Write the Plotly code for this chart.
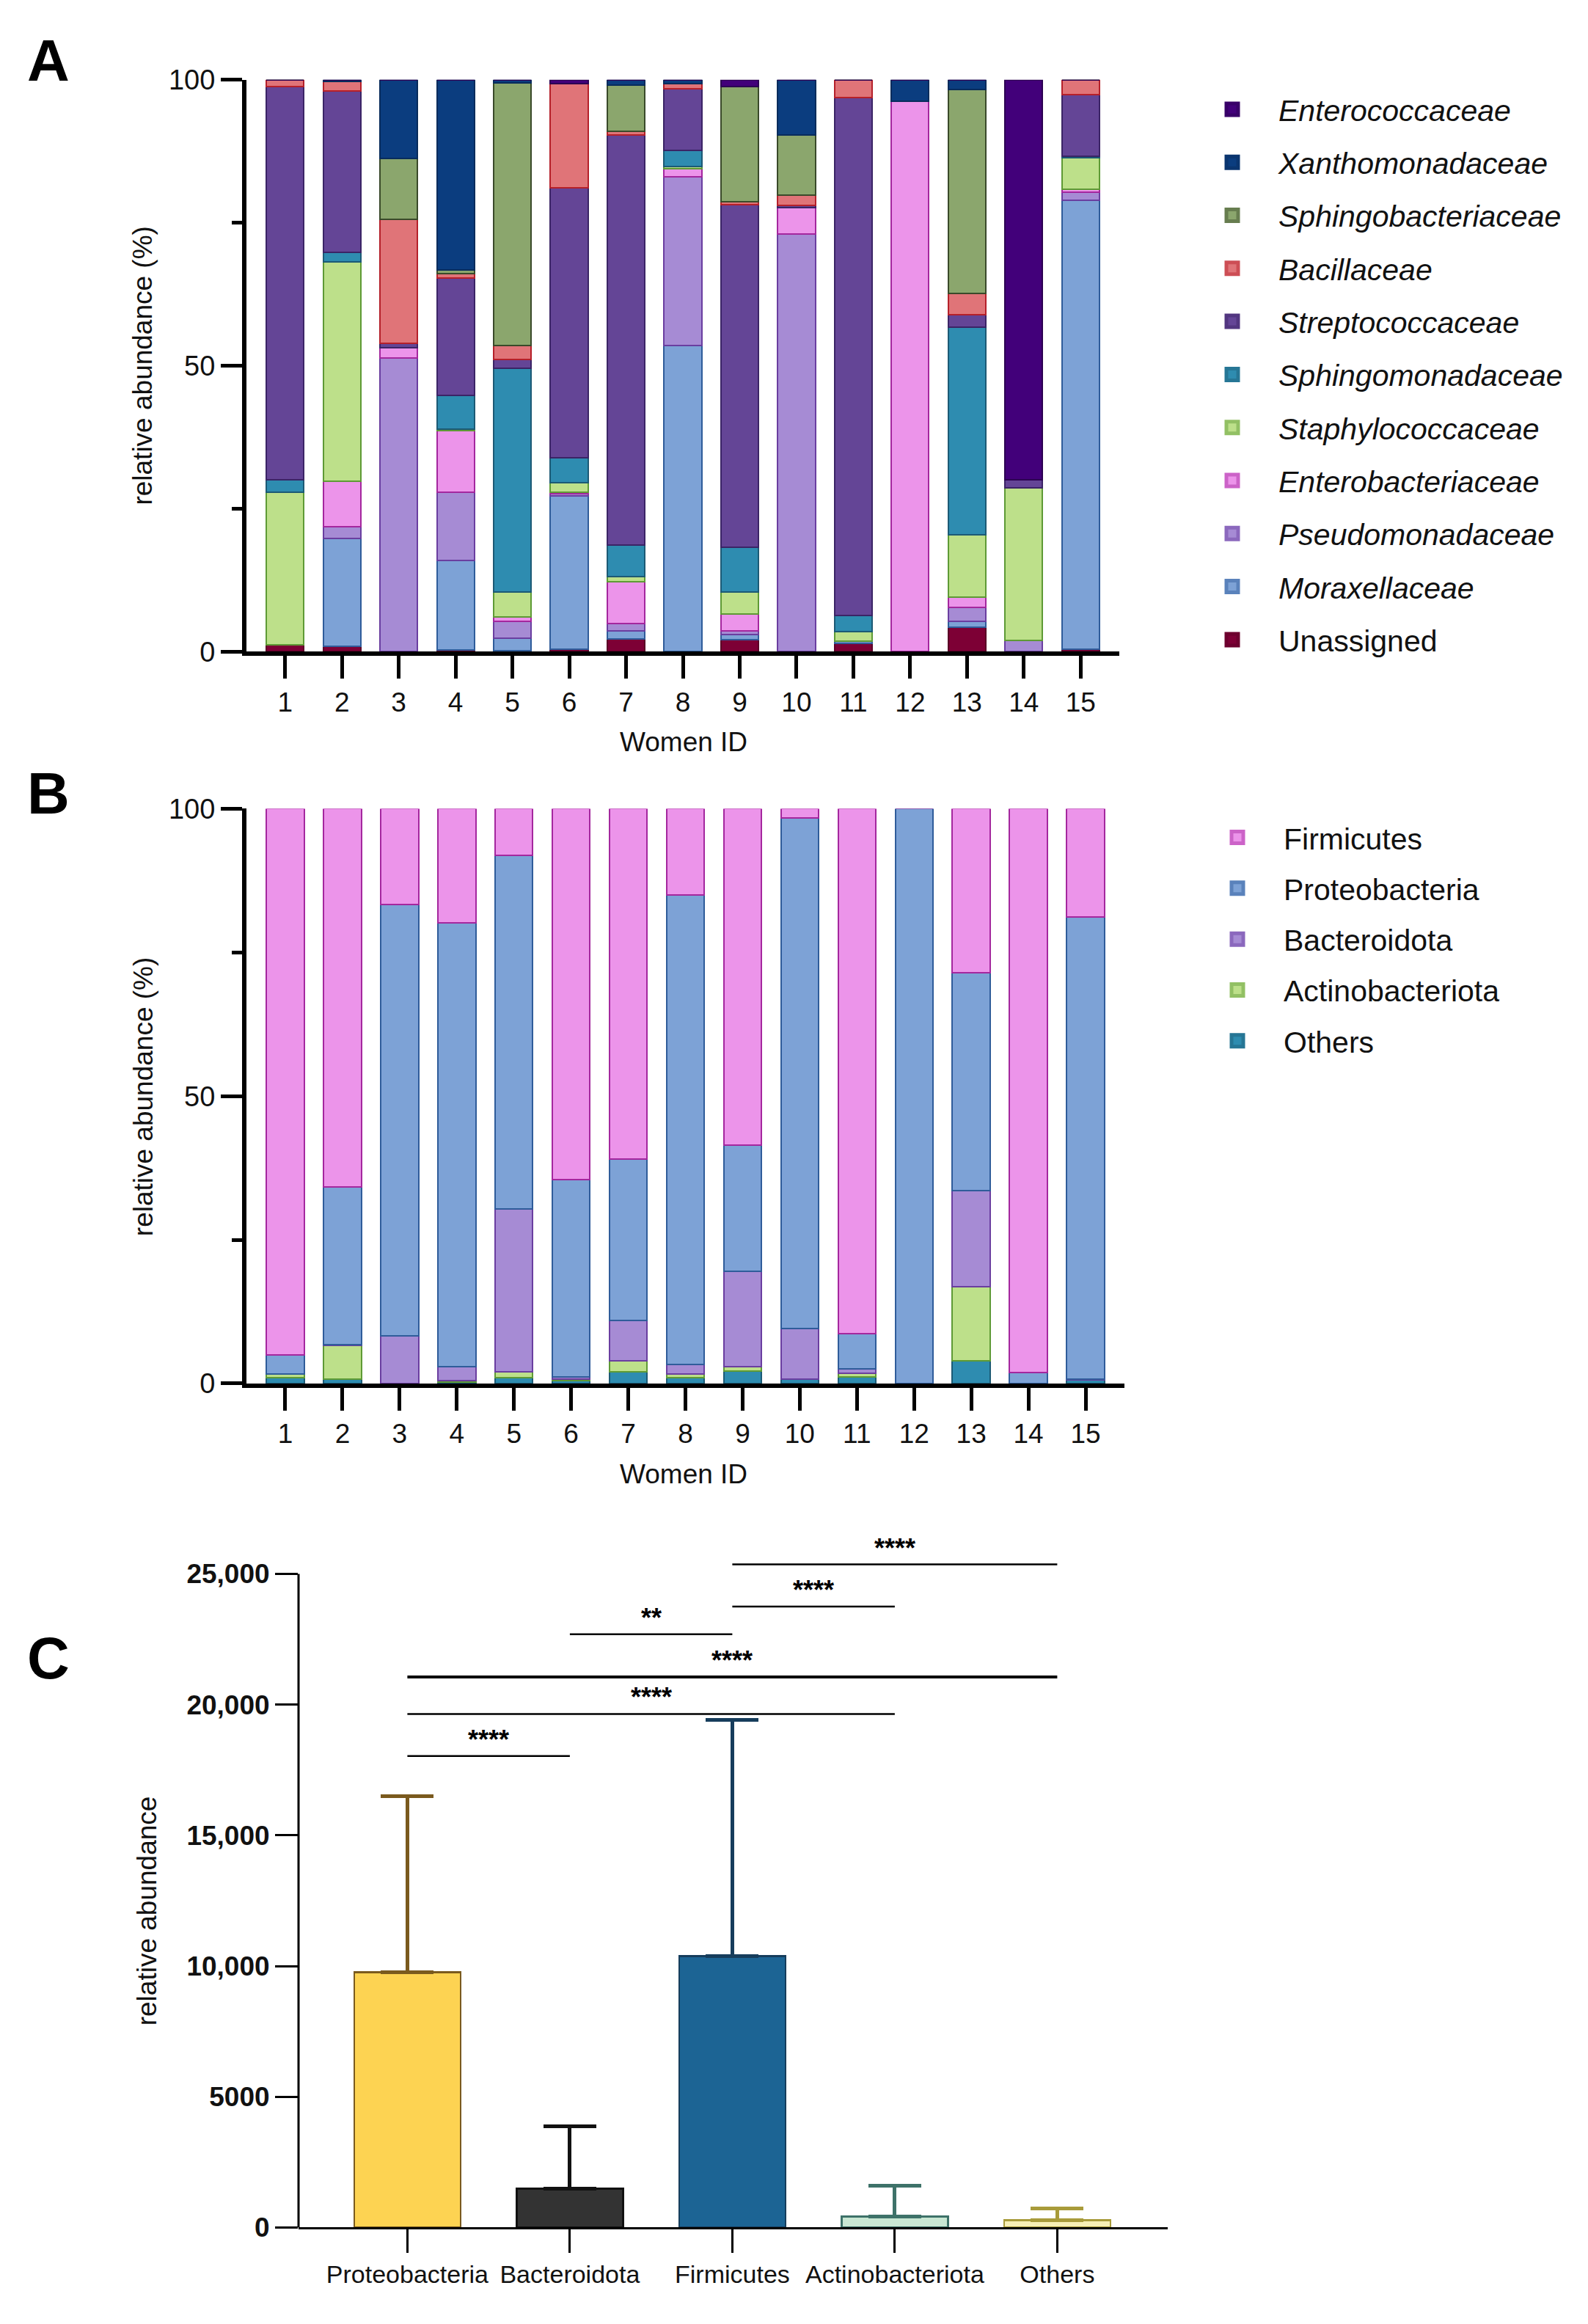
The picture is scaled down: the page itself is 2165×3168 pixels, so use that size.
import plotly.graph_objects as go

W, H = 2165, 3168
FONT = "Liberation Sans, Arial, Helvetica, sans-serif"

# ---------------- data ----------------
women_ids = list(range(1, 16))

# Panel A: family level relative abundance (%), listed bottom -> top of stack
unassigned          = [1.2, 1.0, 0.0, 0.3, 0.2, 0.4, 2.2, 0.0, 2.1, 0.0, 1.4, 0.0, 4.3, 0.0, 0.4]
moraxellaceae       = [0.0, 18.8, 0.0, 15.7, 2.1, 26.9, 1.5, 53.5, 0.9, 0.0, 0.4, 0.0, 1.0, 0.0, 78.6]
pseudomonadaceae    = [0.0, 2.0, 51.4, 11.9, 3.0, 0.3, 1.2, 29.5, 0.6, 73.0, 0.0, 0.0, 2.5, 2.0, 1.4]
enterobacteriaceae  = [0.0, 8.0, 1.8, 10.7, 0.8, 0.3, 7.3, 1.4, 3.0, 4.7, 0.0, 96.2, 1.7, 0.0, 0.4]
staphylococcaceae   = [26.7, 38.3, 0.0, 0.3, 4.4, 1.6, 0.9, 0.5, 3.8, 0.0, 1.7, 0.0, 10.9, 26.6, 5.6]
sphingomonadaceae   = [2.1, 1.7, 0.0, 5.9, 39.1, 4.4, 5.5, 2.8, 7.9, 0.0, 2.8, 0.0, 36.4, 0.0, 0.3]
streptococcaceae    = [68.8, 28.3, 0.7, 20.6, 1.5, 47.2, 71.8, 10.8, 59.9, 0.3, 90.6, 0.0, 2.1, 1.4, 10.7]
bacillaceae         = [1.2, 1.6, 21.7, 0.7, 2.5, 18.2, 0.6, 0.8, 0.5, 1.8, 3.1, 0.0, 3.8, 0.0, 2.6]
sphingobacteriaceae = [0.0, 0.0, 10.6, 0.6, 45.9, 0.0, 8.1, 0.0, 20.1, 10.5, 0.0, 0.0, 35.6, 0.0, 0.0]
xanthomonadaceae    = [0.0, 0.3, 13.8, 33.3, 0.5, 0.0, 0.9, 0.7, 0.0, 9.7, 0.0, 3.8, 1.7, 0.0, 0.0]
enterococcaceae     = [0.0, 0.0, 0.0, 0.0, 0.0, 0.7, 0.0, 0.0, 1.2, 0.0, 0.0, 0.0, 0.0, 70.0, 0.0]

# Panel B: phylum level relative abundance (%), bottom -> top of stack
others_b          = [1.0, 0.7, 0.0, 0.3, 1.0, 0.5, 2.0, 1.0, 2.2, 0.7, 1.1, 0.0, 4.0, 0.0, 0.6]
actinobacteriota  = [0.6, 5.9, 0.0, 0.2, 1.0, 0.2, 1.9, 0.6, 0.7, 0.0, 0.7, 0.0, 12.9, 0.0, 0.0]
bacteroidota      = [0.0, 0.2, 8.3, 2.4, 28.4, 0.5, 7.1, 1.7, 16.6, 8.9, 0.7, 0.0, 16.6, 0.0, 0.2]
proteobacteria    = [3.4, 27.4, 75.0, 77.2, 61.5, 34.3, 28.1, 81.7, 22.0, 88.8, 6.2, 100.0, 38.0, 1.9, 80.4]
firmicutes        = [95.0, 65.8, 16.7, 19.9, 8.1, 64.5, 60.9, 15.0, 58.5, 1.6, 91.3, 0.0, 28.5, 98.1, 18.8]

# Panel C: mean relative abundance and SD per phylum
phyla_c   = ["Proteobacteria", "Bacteroidota", "Firmicutes", "Actinobacteriota", "Others"]
mean_c    = [9760, 1490, 10380, 420, 280]
sd_c      = [6740, 2370, 9040, 1170, 440]
c_ticks   = [0, 5000, 10000, 15000, 20000, 25000]
c_ticktxt = ["0", "5000", "10,000", "15,000", "20,000", "25,000"]

# significance brackets (category index pairs, height, label)
sig_from   = [0, 0, 0, 1, 2, 2]
sig_to     = [1, 3, 4, 2, 3, 4]
sig_y      = [18030, 19640, 21060, 22690, 23750, 25360]
sig_labels = ["****", "****", "****", "**", "****", "****"]

# ---------------- styles ----------------
fam_series = [
    ("Unassigned", unassigned, "#7d0035", "#5a0026", False),
    ("Moraxellaceae", moraxellaceae, "#7da2d6", "#2f5c9a", True),
    ("Pseudomonadaceae", pseudomonadaceae, "#a68bd4", "#6a3ea0", True),
    ("Enterobacteriaceae", enterobacteriaceae, "#ec94ea", "#a4279e", True),
    ("Staphylococcaceae", staphylococcaceae, "#bde08a", "#5e9a35", True),
    ("Sphingomonadaceae", sphingomonadaceae, "#2e8cb0", "#1c5a75", True),
    ("Streptococcaceae", streptococcaceae, "#644596", "#3b2466", True),
    ("Bacillaceae", bacillaceae, "#e07478", "#b5202a", True),
    ("Sphingobacteriaceae", sphingobacteriaceae, "#8ba66d", "#3a4a2a", True),
    ("Xanthomonadaceae", xanthomonadaceae, "#0b3d7f", "#082c5c", True),
    ("Enterococcaceae", enterococcaceae, "#42007a", "#2c0052", True),
]
phy_series = [
    ("Others", others_b, "#2e8cb0", "#1c5a75"),
    ("Actinobacteriota", actinobacteriota, "#bde08a", "#5e9a35"),
    ("Bacteroidota", bacteroidota, "#a68bd4", "#6a3ea0"),
    ("Proteobacteria", proteobacteria, "#7da2d6", "#2f5c9a"),
    ("Firmicutes", firmicutes, "#ec94ea", "#a4279e"),
]
c_fill = ["#fdd352", "#333333", "#1c6494", "#c9e7d3", "#f7efb5"]
c_err  = ["#7a5a1e", "#111111", "#163d5c", "#3e7269", "#a89b3a"]


def mix(c1, c2, t=0.5):
    a = [int(c1[i:i + 2], 16) for i in (1, 3, 5)]
    b = [int(c2[i:i + 2], 16) for i in (1, 3, 5)]
    return "#" + "".join(f"{round(x * (1 - t) + y * t):02x}" for x, y in zip(a, b))


fig = go.Figure()

# Panel A bars
for name, vals, fill, edge, ital in fam_series:
    fig.add_trace(go.Bar(x=women_ids, y=vals, width=0.66, name=name,
                         marker=dict(color=fill, line=dict(color=edge, width=2)),
                         showlegend=False, xaxis="x", yaxis="y"))
# Panel A legend (top to bottom)
for name, vals, fill, edge, ital in reversed(fam_series):
    label = f"<i>{name}</i>" if ital else name
    fig.add_trace(go.Scatter(x=[None], y=[None], mode="markers", name=label,
                             legend="legend", legendgroup="a_" + name,
                             marker=dict(symbol="square", size=16, color=fill,
                                         line=dict(color=mix(fill, edge, 0.45), width=5)),
                             xaxis="x", yaxis="y"))

# Panel B bars
for name, vals, fill, edge in phy_series:
    fig.add_trace(go.Bar(x=women_ids, y=vals, width=0.66, name=name,
                         marker=dict(color=fill, line=dict(color=edge, width=2)),
                         showlegend=False, xaxis="x2", yaxis="y2"))
for name, vals, fill, edge in reversed(phy_series):
    fig.add_trace(go.Scatter(x=[None], y=[None], mode="markers", name=name,
                             legend="legend2", legendgroup="b_" + name,
                             marker=dict(symbol="square", size=16, color=fill,
                                         line=dict(color=mix(fill, edge, 0.45), width=5)),
                             xaxis="x2", yaxis="y2"))

# Panel C bars with upper SD error bars
for i, ph in enumerate(phyla_c):
    fig.add_trace(go.Bar(x=[ph], y=[mean_c[i]], width=0.655, showlegend=False,
                         marker=dict(color=c_fill[i], line=dict(color=c_err[i], width=2.5)),
                         error_y=dict(type="data", array=[sd_c[i]], arrayminus=[0],
                                      symmetric=False, color=c_err[i], thickness=5, width=36),
                         xaxis="x3", yaxis="y3"))

shapes = []
annotations = []
for a, b, yv, lab in zip(sig_from, sig_to, sig_y, sig_labels):
    lw = 4 if (a == 0 and b == 4) else 2.5
    shapes.append(dict(type="line", xref="x3", yref="y3", x0=a, x1=b, y0=yv, y1=yv,
                       line=dict(color="black", width=lw)))
    annotations.append(dict(xref="x3", yref="y3", x=(a + b) / 2, y=yv, text=f"<b>{lab}</b>",
                            showarrow=False, yanchor="bottom", yshift=0,
                            font=dict(size=36, color="black", family=FONT)))
# y axis line of panel C (only up to 25,000)
shapes.append(dict(type="line", xref="x3 domain", yref="y3", x0=0, x1=0, y0=0, y1=25000,
                   line=dict(color="black", width=3)))


def pfx(px):
    return px / W


def pfy(py):
    return 1 - py / H


# panel letters
for letter, yy in (("A", 62), ("B", 1075), ("C", 2270)):
    annotations.append(dict(xref="paper", yref="paper", x=pfx(66), y=pfy(yy), text=f"<b>{letter}</b>",
                            showarrow=False, xanchor="center", yanchor="middle",
                            font=dict(size=80, color="black", family=FONT)))
# axis titles
title_font = dict(size=37, color="#111", family=FONT)
annotations += [
    dict(xref="paper", yref="paper", x=pfx(195), y=pfy(484), text="relative abundance (%)",
         textangle=-90, showarrow=False, xanchor="center", yanchor="middle", font=title_font),
    dict(xref="paper", yref="paper", x=pfx(932), y=pfy(1004), text="Women ID",
         showarrow=False, xanchor="center", yanchor="middle", font=title_font),
    dict(xref="paper", yref="paper", x=pfx(195), y=pfy(1494), text="relative abundance (%)",
         textangle=-90, showarrow=False, xanchor="center", yanchor="middle", font=title_font),
    dict(xref="paper", yref="paper", x=pfx(932), y=pfy(2015), text="Women ID",
         showarrow=False, xanchor="center", yanchor="middle", font=title_font),
    dict(xref="paper", yref="paper", x=pfx(200), y=pfy(2619), text="relative abundance",
         textangle=-90, showarrow=False, xanchor="center", yanchor="middle", font=title_font),
]

axis_common = dict(showgrid=False, zeroline=False, showline=True, linecolor="black",
                   ticks="outside", tickcolor="black")

fig.update_layout(
    width=W, height=H, margin=dict(l=0, r=0, t=0, b=0),
    paper_bgcolor="white", plot_bgcolor="white",
    barmode="stack",
    font=dict(family=FONT, color="#111"),
    xaxis=dict(**axis_common, domain=[pfx(336), pfx(1526)], anchor="y", range=[0.32, 15.68],
               tickvals=women_ids, ticklen=31, tickwidth=5, linewidth=6,
               tickfont=dict(size=37, color="#111")),
    yaxis=dict(**axis_common, domain=[pfy(879), pfy(89)], anchor="x", range=[0, 100],
               tickvals=[0, 50, 100], ticklen=29, tickwidth=5, linewidth=6,
               tickfont=dict(size=38, color="#111"),
               minor=dict(tickvals=[25, 75], ticks="outside", ticklen=14, tickwidth=5,
                          tickcolor="black")),
    xaxis2=dict(**axis_common, domain=[pfx(336), pfx(1533)], anchor="y2", range=[0.32, 15.68],
                tickvals=women_ids, ticklen=31, tickwidth=5, linewidth=6,
                tickfont=dict(size=37, color="#111")),
    yaxis2=dict(**axis_common, domain=[pfy(1890), pfy(1096)], anchor="x2", range=[0, 100],
                tickvals=[0, 50, 100], ticklen=29, tickwidth=5, linewidth=6,
                tickfont=dict(size=38, color="#111"),
                minor=dict(tickvals=[25, 75], ticks="outside", ticklen=14, tickwidth=5,
                           tickcolor="black")),
    xaxis3=dict(**axis_common, domain=[pfx(407), pfx(1592)], anchor="y3", type="category",
                categoryorder="array", categoryarray=phyla_c, range=[-0.67, 4.68],
                ticklen=32, tickwidth=3, linewidth=3,
                tickfont=dict(size=34, color="#111")),
    yaxis3=dict(showgrid=False, zeroline=False, showline=False, ticks="outside",
                tickcolor="black", domain=[pfy(3056), pfy(3056 - 903 * 26500 / 25000)],
                anchor="x3", range=[0, 26500],
                tickvals=c_ticks, ticktext=c_ticktxt, ticklen=31, tickwidth=3,
                tickfont=dict(size=37, color="#111", weight="bold")),
    legend=dict(x=pfx(1617), y=pfy(96), xanchor="left", yanchor="top",
                font=dict(size=41, color="#111", family=FONT), itemwidth=116,
                tracegroupgap=16, bgcolor="rgba(0,0,0,0)"),
    legend2=dict(x=pfx(1624), y=pfy(1102), xanchor="left", yanchor="top",
                 font=dict(size=41, color="#111", family=FONT), itemwidth=116,
                 tracegroupgap=13, bgcolor="rgba(0,0,0,0)"),
    shapes=shapes,
    annotations=annotations,
)

fig.write_html("out.html",
               config={"displayModeBar": False},
               post_script="document.body.style.margin='0px';"
                           "document.documentElement.style.margin='0px';")
